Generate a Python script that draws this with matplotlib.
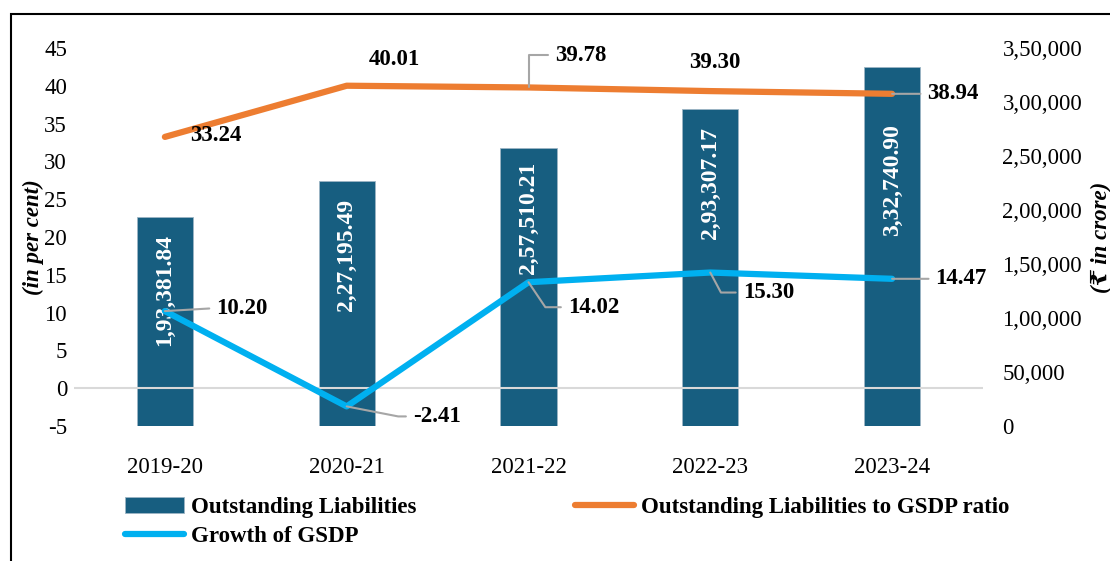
import matplotlib
matplotlib.use("Agg")
from matplotlib import pyplot as plt
from matplotlib.patches import Rectangle

# Data
years = ["2019-20", "2020-21", "2021-22", "2022-23", "2023-24"]
liabilities = [193381.84, 227195.49, 257510.21, 293307.17, 332740.90]
liab_labels = ["1,93,381.84", "2,27,195.49", "2,57,510.21", "2,93,307.17", "3,32,740.90"]
ratio = [33.24, 40.01, 39.78, 39.30, 38.94]
growth = [10.20, -2.41, 14.02, 15.30, 14.47]

right_ticks = [0, 50000, 100000, 150000, 200000, 250000, 300000, 350000]
right_tick_labels = ["0", "50,000", "1,00,000", "1,50,000", "2,00,000",
                     "2,50,000", "3,00,000", "3,50,000"]

BAR = "#175E80"
ORANGE = "#ED7D31"
BLUE = "#00B0F0"
LEAD = "#A6A6A6"
FONT = ["Liberation Serif", "DejaVu Serif"]

plt.rcParams["font.family"] = FONT
plt.rcParams["axes.unicode_minus"] = False

fig = plt.figure(figsize=(11.1, 5.61), dpi=100)
ax = fig.add_axes([74 / 1110, 1 - 426 / 561, (983 - 74) / 1110, (426 - 48) / 561])
ax2 = ax.twinx()

# bars on ax (right scale), lines on ax2 (left scale)
x = list(range(len(years)))
bars = ax.bar(x, liabilities, width=0.31, color=BAR, edgecolor="#9DB5C4",
              linewidth=0.6, label="Outstanding Liabilities", zorder=2)
ax.set_ylim(0, 350000)
ax.set_xlim(-0.5, 4.5)
ax.yaxis.tick_right()
ax.yaxis.set_label_position("right")
ax.set_yticks(right_ticks)
ax.set_yticklabels(right_tick_labels)
ax.tick_params(axis="y", length=0, pad=14, labelsize=16.5)
ax.set_xticks(x)
ax.set_xticklabels(years)
ax.tick_params(axis="x", length=0, pad=22, labelsize=16.5)
ax.set_ylabel("(₹ in crore)", fontsize=16.5, fontweight="bold", style="italic",
              rotation=90, labelpad=6)
for s in ax.spines.values():
    s.set_visible(False)

# label drop below the bar top, pixels
drop = [17, 18, 14, 18, 57]
for xi, v, lab, d in zip(x, liabilities, liab_labels, drop):
    ax.annotate(lab, (xi, v), xytext=(0, -d), textcoords="offset pixels",
                rotation=90, ha="center", va="top", color="white",
                fontsize=17, fontweight="bold", zorder=3)

ax2.set_ylim(-5, 45)
ax2.yaxis.tick_left()
ax2.yaxis.set_label_position("left")
ax2.set_yticks(range(-5, 50, 5))
ax2.tick_params(axis="y", length=0, pad=5, labelsize=16.5)
ax2.set_ylabel("(in per cent)", fontsize=16.5, fontweight="bold", style="italic",
               labelpad=0)
for s in ax2.spines.values():
    s.set_visible(False)
ax2.axhline(0, color="#D9D9D9", linewidth=1.5, zorder=1)

l1, = ax2.plot(x, ratio, color=ORANGE, linewidth=4.5, solid_capstyle="round",
               label="Outstanding Liabilities to GSDP ratio", zorder=4)
l2, = ax2.plot(x, growth, color=BLUE, linewidth=4.5, solid_capstyle="round",
               label="Growth of GSDP", zorder=4)

# label offsets in pixels; leader: None, "s" (straight) or (angleA, angleB)
ratio_off = [(51, 1, None), (48, 26, None), (52, 32, (0, 90)),
             (5, 29, None), (61, 0, "s")]
growth_off = [(77, 3, "s"), (90, -10, (0, -11)), (65, -25, (0, -56)),
              (58, -20, (0, -62)), (69, 0, "s")]


def put_labels(vals, offs):
    for xi, v, (dx, dy, lead) in zip(x, vals, offs):
        kw = {}
        if lead == "s":
            cs = "arc3,rad=0"
        elif lead is not None:
            cs = "angle,angleA=%d,angleB=%d,rad=0" % lead
        if lead is not None:
            kw["arrowprops"] = dict(arrowstyle="-", color=LEAD, lw=1.5,
                                    shrinkA=3, shrinkB=0, relpos=(0, 0.5),
                                    connectionstyle=cs)
        ax2.annotate("%.2f" % v, (xi, v), xytext=(dx, dy),
                     textcoords="offset pixels", ha="center", va="center",
                     fontsize=16.5, fontweight="bold", zorder=5, **kw)


put_labels(ratio, ratio_off)
put_labels(growth, growth_off)

fig.legend([bars, l2, l1],
           ["Outstanding Liabilities", "Growth of GSDP",
            "Outstanding Liabilities to GSDP ratio"],
           loc="upper left", bbox_to_anchor=(104 / 1110, 1 - 476 / 561), ncol=2,
           frameon=False, handlelength=2.6, handletextpad=0.3,
           columnspacing=6.9, labelspacing=0.35,
           prop=dict(family=FONT, weight="bold", size=16.5))

# figure border
fig.patches.append(Rectangle((11 / 1110, -0.1), 1.2, 1 - 14 / 561 + 0.1,
                             transform=fig.transFigure, fill=False,
                             edgecolor="black", linewidth=1.5))

fig.savefig("out.png", dpi=100)
